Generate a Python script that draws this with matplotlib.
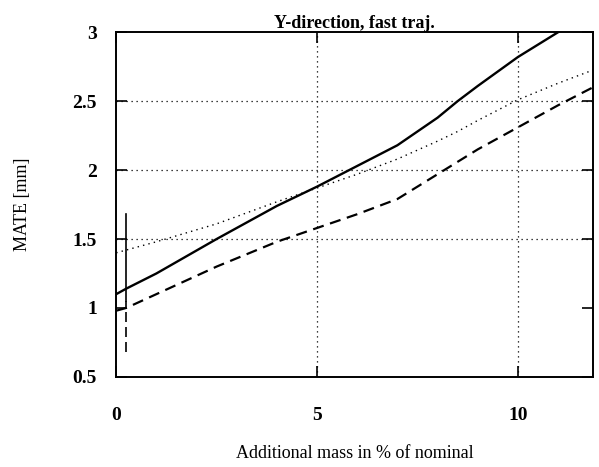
import numpy as np
import matplotlib
matplotlib.use('Agg')
import matplotlib.pyplot as plt

plt.rcParams['font.family'] = ['Liberation Serif', 'DejaVu Serif']

# values
mass = [0, 0.25, 1, 2.5, 4, 5, 6, 7, 8, 8.5, 9, 10, 11, 12]
mate_solid = [1.10, 1.14, 1.25, 1.50, 1.74, 1.88, 2.03, 2.18, 2.38, 2.50, 2.61, 2.82, 3.00, 3.15]
mate_dashed = [0.98, 1.00, 1.10, 1.30, 1.48, 1.58, 1.68, 1.79, 1.97, 2.06, 2.15, 2.31, 2.47, 2.62]
mate_dotted = [1.40, 1.42, 1.48, 1.61, 1.77, 1.87, 1.97, 2.08, 2.21, 2.28, 2.36, 2.51, 2.63, 2.74]

# vertical bar near x=0.25
bar_x = 0.25
bar_solid = [1.05, 1.68]
bar_dash = [0.68, 1.05]

xticks = [0, 5, 10]
yticks = [0.5, 1, 1.5, 2, 2.5, 3]
ytick_labels = ['0.5', '1', '1.5', '2', '2.5', '3']
grid_x = [5, 10]
grid_y = [1.5, 2, 2.5]

fig = plt.figure(figsize=(5.99, 4.67), dpi=100)
ax = fig.add_axes([0.194, 0.193, 0.796, 0.738])

for gx in grid_x:
    ax.axvline(gx, color='k', linestyle=(0, (1, 3)), linewidth=0.9)
for gy in grid_y:
    ax.axhline(gy, color='k', linestyle=(0, (1, 3)), linewidth=0.9)

ax.plot(mass, mate_solid, 'k-', linewidth=1.7)
ax.plot(mass, mate_dashed, 'k--', linewidth=1.6, dashes=(5, 3))
ax.plot(mass, mate_dotted, 'k:', linewidth=1.0, dashes=(1, 3))
ax.plot([bar_x, bar_x], bar_solid, 'k-', linewidth=1.2)
ax.plot([bar_x, bar_x], bar_dash, 'k--', linewidth=1.2, dashes=(6, 3))

ax.set_xlim(0, 11.87)
ax.set_ylim(0.5, 3)
ax.set_xticks(xticks)
ax.set_yticks(yticks)
ax.set_yticklabels(ytick_labels)
ax.tick_params(direction='in', length=8, width=1.2, top=True, right=True,
               labelsize=14)
ax.tick_params(axis='x', pad=22)
ax.tick_params(axis='y', pad=14)
for lbl in ax.get_xticklabels() + ax.get_yticklabels():
    lbl.set_fontweight('bold')
for sp in ax.spines.values():
    sp.set_linewidth(1.4)

ax.set_title('Y-direction, fast traj.', fontsize=13, pad=3, fontweight='bold')
ax.set_xlabel('Additional mass in % of nominal', fontsize=13, labelpad=15)
ax.set_ylabel('MATE [mm]', fontsize=13, labelpad=30)

fig.savefig('out.png', dpi=100)
